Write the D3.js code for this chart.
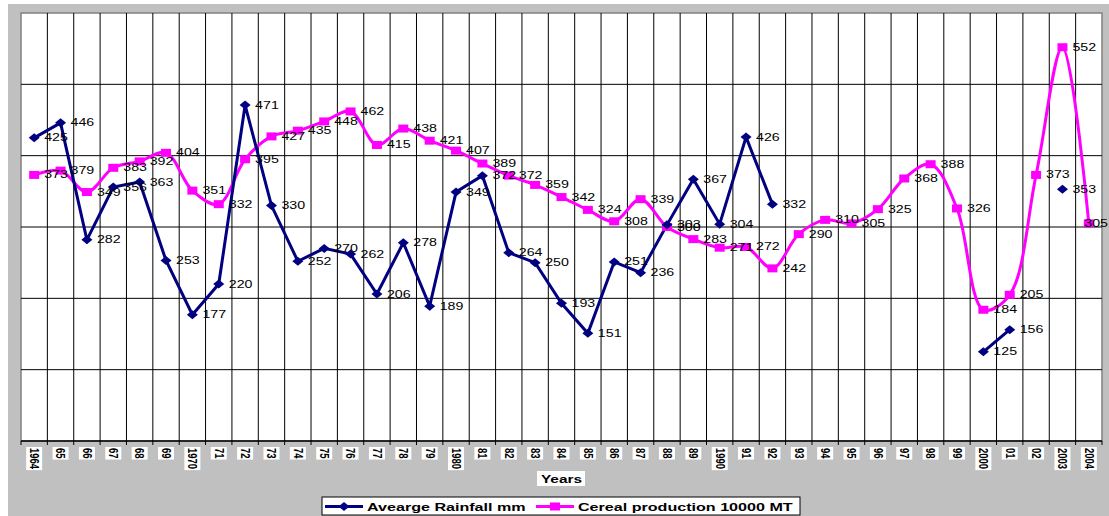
<!DOCTYPE html>
<html>
<head>
<meta charset="utf-8">
<script src="https://cdn.jsdelivr.net/npm/d3@7"></script>
<style>
    body { margin: 0; background: #fff; }
    svg { display: block; font-family: 'Liberation Sans', Arial, sans-serif; }
</style>
</head>
<body>
<svg width="1109" height="516"></svg>
<script>
var yearLabels = ['1964', '65', '66', '67', '68', '69', '1970', '71', '72', '73', '74', '75', '76', '77', '78', '79',
    '1980', '81', '82', '83', '84', '85', '86', '87', '88', '89', '1990', '91', '92', '93', '94', '95', '96', '97',
    '98', '99', '2000', '01', '02', '2003', '2004'];

var rainfall = [425, 446, 282, 356, 363, 253, 177, 220, 471, 330, 252, 270, 262, 206, 278, 189,
    349, 372, 264, 250, 193, 151, 251, 236, 303, 367, 304, 426, 332, null, null, null, null, null,
    null, null, 125, 156, null, 353, null];

var cereal = [373, 379, 349, 383, 392, 404, 351, 332, 395, 427, 435, 448, 462, 415, 438, 421,
    407, 389, 372, 359, 342, 324, 308, 339, 300, 283, 271, 272, 242, 290, 310, 305, 325, 368,
    388, 326, 184, 205, 373, 552, 305];

var yTicks = [0, 100, 200, 300, 400, 500, 600];

var seriesNames = ['Avearge Rainfall mm', 'Cereal production 10000 MT'];

(function () {
    var svg = d3.select('svg');
    var width = 1109;
    var plot = { left: 21, right: 1102, top: 13, bottom: 441 };
    var stretch = 1.42;   // the source picture is widened, so is its text

    var x = d3.scaleBand()
        .domain(yearLabels)
        .range([plot.left, plot.right]);

    var y = d3.scaleLinear()
        .domain([0, 600])
        .range([plot.bottom, plot.top]);

    function cx(i) {
        return x(yearLabels[i]) + x.bandwidth() / 2;
    }

    // grey frame
    svg.append('rect')
        .attr('x', 8).attr('y', 4)
        .attr('width', width - 8).attr('height', 512)
        .attr('fill', '#c0c0c0');

    svg.append('rect')
        .attr('x', plot.left).attr('y', plot.top)
        .attr('width', plot.right - plot.left)
        .attr('height', plot.bottom - plot.top)
        .attr('fill', '#fff')
        .attr('stroke', '#808080')
        .attr('stroke-width', 1.5);

    // horizontal grid
    svg.append('g')
        .selectAll('line')
        .data(yTicks.slice(1, -1))
        .enter()
        .append('line')
        .attr('x1', plot.left).attr('x2', plot.right)
        .attr('y1', function(d) { return y(d); })
        .attr('y2', function(d) { return y(d); })
        .attr('stroke', '#000')
        .attr('stroke-width', 1);

    // vertical grid at the category edges
    var edges = yearLabels.slice(1).map(function(d) { return x(d); });
    svg.append('g')
        .selectAll('line')
        .data(edges)
        .enter()
        .append('line')
        .attr('x1', function(d) { return d; })
        .attr('x2', function(d) { return d; })
        .attr('y1', plot.top).attr('y2', plot.bottom)
        .attr('stroke', '#000')
        .attr('stroke-width', 1);

    // x axis with ticks on the edges
    svg.append('line')
        .attr('x1', plot.left).attr('x2', plot.right)
        .attr('y1', plot.bottom).attr('y2', plot.bottom)
        .attr('stroke', '#000')
        .attr('stroke-width', 1.5);

    svg.append('g')
        .selectAll('line')
        .data(yearLabels.map(function(d) { return x(d); }).concat([plot.right]))
        .enter()
        .append('line')
        .attr('x1', function(d) { return d; })
        .attr('x2', function(d) { return d; })
        .attr('y1', plot.bottom).attr('y2', plot.bottom + 4)
        .attr('stroke', '#000');

    // rotated year labels on white tags
    var tags = svg.append('g')
        .selectAll('g')
        .data(yearLabels)
        .enter()
        .append('g');

    tags.append('rect').attr('fill', '#fff');

    tags.append('text')
        .attr('font-size', 9.5)
        .attr('font-weight', 'bold')
        .attr('dy', '0.35em')
        .attr('transform', function(d) {
            return 'translate(' + (x(d) + x.bandwidth() / 2) + ',' + (plot.bottom + 7) + ') scale(1.25,1) rotate(90)';
        })
        .text(function(d) { return d; });

    tags.each(function(d) {
        var len = d3.select(this).select('text').node().getComputedTextLength();
        d3.select(this).select('rect')
            .attr('x', x(d) + x.bandwidth() / 2 - 8)
            .attr('y', plot.bottom + 6)
            .attr('width', 16)
            .attr('height', len + 2);
    });

    // axis title
    svg.append('rect')
        .attr('x', 537).attr('y', 471)
        .attr('width', 48).attr('height', 15)
        .attr('fill', '#fff');
    svg.append('text')
        .attr('font-size', 11)
        .attr('font-weight', 'bold')
        .attr('text-anchor', 'middle')
        .attr('dy', '0.35em')
        .attr('transform', 'translate(' + (plot.left + plot.right) / 2 + ',479) scale(1.4,1)')
        .text('Years');

    // rainfall: straight segments, broken on gaps
    var rainLine = d3.line()
        .defined(function(d) { return d != null; })
        .x(function(d, i) { return cx(i); })
        .y(function(d) { return y(d); });

    // cereal: smoothed line
    var cerealLine = d3.line()
        .x(function(d, i) { return cx(i); })
        .y(function(d) { return y(d); })
        .curve(d3.curveCatmullRom.alpha(0.5));

    svg.append('path')
        .datum(cereal)
        .attr('d', cerealLine)
        .attr('fill', 'none')
        .attr('stroke', '#ff00ff')
        .attr('stroke-width', 3);

    svg.append('path')
        .datum(rainfall)
        .attr('d', rainLine)
        .attr('fill', 'none')
        .attr('stroke', '#000080')
        .attr('stroke-width', 3);

    function diamond(px, py) {
        return 'M' + (px - 5.5) + ',' + py + 'L' + px + ',' + (py - 4.5) +
            'L' + (px + 5.5) + ',' + py + 'L' + px + ',' + (py + 4.5) + 'Z';
    }

    svg.append('g')
        .selectAll('rect')
        .data(cereal)
        .enter()
        .append('rect')
        .attr('x', function(d, i) { return cx(i) - 5; })
        .attr('y', function(d) { return y(d) - 4; })
        .attr('width', 10).attr('height', 8)
        .attr('fill', '#ff00ff');

    var rainPoints = rainfall
        .map(function(d, i) { return { v: d, i: i }; })
        .filter(function(d) { return d.v != null; });

    svg.append('g')
        .selectAll('path')
        .data(rainPoints)
        .enter()
        .append('path')
        .attr('d', function(d) { return diamond(cx(d.i), y(d.v)); })
        .attr('fill', '#000080');

    // value labels, pushed back in when they would run off the right edge
    var labels = rainPoints.concat(cereal.map(function(d, i) { return { v: d, i: i }; }));
    svg.append('g')
        .selectAll('text')
        .data(labels)
        .enter()
        .append('text')
        .attr('font-size', 10)
        .attr('fill', '#000')
        .attr('dy', '0.35em')
        .text(function(d) { return d.v; })
        .attr('transform', function(d) {
            var w = this.getComputedTextLength() * stretch;
            var lx = Math.min(cx(d.i) + 10, width - w - 1);
            return 'translate(' + lx + ',' + y(d.v) + ') scale(' + stretch + ',1)';
        });

    // legend
    var legend = svg.append('g');
    legend.append('rect')
        .attr('x', 322).attr('y', 497)
        .attr('width', 478).attr('height', 18)
        .attr('fill', '#fff')
        .attr('stroke', '#000');

    var items = [
        { name: seriesNames[0], color: '#000080', x0: 325, marker: 'diamond' },
        { name: seriesNames[1], color: '#ff00ff', x0: 536, marker: 'square' }
    ];
    items.forEach(function(it) {
        var ly = 506.5;
        legend.append('line')
            .attr('x1', it.x0).attr('x2', it.x0 + 38)
            .attr('y1', ly).attr('y2', ly)
            .attr('stroke', it.color)
            .attr('stroke-width', 3);
        if (it.marker === 'diamond') {
            legend.append('path')
                .attr('d', diamond(it.x0 + 19, ly))
                .attr('fill', it.color);
        } else {
            legend.append('rect')
                .attr('x', it.x0 + 14).attr('y', ly - 4)
                .attr('width', 10).attr('height', 8)
                .attr('fill', it.color);
        }
        legend.append('text')
            .attr('font-size', 11.5)
            .attr('font-weight', 'bold')
            .attr('dy', '0.35em')
            .attr('transform', 'translate(' + (it.x0 + 42) + ',' + ly + ') scale(1.4,1)')
            .text(it.name);
    });
}());
</script>
</body>
</html>
